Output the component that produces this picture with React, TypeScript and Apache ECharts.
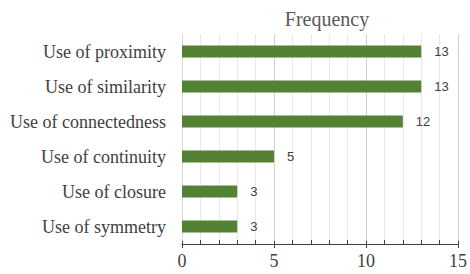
import React, { useEffect, useRef } from "react";
import * as echarts from "echarts";

const categories = [
  "Use of proximity",
  "Use of similarity",
  "Use of connectedness",
  "Use of continuity",
  "Use of closure",
  "Use of symmetry",
];
const frequency = [13, 13, 12, 5, 3, 3];
const axisMin = 0;
const axisMax = 15;
const axisInterval = 5;
const titleText = "Frequency";

export default function App() {
  const ref = useRef<HTMLDivElement>(null);
  useEffect(() => {
    if (!ref.current) return;
    const chart = echarts.init(ref.current, undefined, { renderer: "svg" });
    const serif = "'Liberation Serif', 'Times New Roman', serif";
    chart.setOption({
      animation: false,
      title: {
        text: titleText,
        left: 322,
        top: 4,
        textAlign: "center",
        textStyle: { fontFamily: serif, fontSize: 20, fontWeight: "normal", color: "#595959" },
      },
      grid: { left: 182, right: 9, top: 34, bottom: 30, containLabel: false },
      xAxis: [
        {
          type: "value",
          min: axisMin,
          max: axisMax,
          interval: axisInterval,
          position: "bottom",
          axisLine: { show: true, lineStyle: { color: "#404040", width: 1 } },
          axisTick: { show: true, length: 4, lineStyle: { color: "#404040" } },
          minorTick: { show: false },
          axisLabel: { fontFamily: serif, fontSize: 18, color: "#404040", margin: 8 },
          splitLine: { show: true, lineStyle: { color: "#d0d0d0", width: 1 } },
          minorSplitLine: { show: true, lineStyle: { color: "#e8e8e8", width: 1 } },
        },
        {
          type: "value",
          min: axisMin,
          max: axisMax,
          interval: axisInterval,
          position: "bottom",
          axisLine: { show: false },
          axisTick: { show: true, inside: true, length: 3, lineStyle: { color: "#404040" } },
          minorTick: { show: true, splitNumber: 5, length: 4, lineStyle: { color: "#404040" } },
          axisLabel: { show: false },
          splitLine: { show: false },
        },
      ],
      yAxis: {
        type: "category",
        data: categories,
        inverse: true,
        axisLine: { show: true, lineStyle: { color: "#d9d9d9" } },
        axisTick: { show: false },
        axisLabel: { fontFamily: serif, fontSize: 18, color: "#404040", margin: 16 },
      },
      series: [
        {
          type: "bar",
          data: frequency,
          xAxisIndex: 0,
          barWidth: 12,
          itemStyle: { color: "#548235" },
          label: {
            show: true,
            position: "right",
            distance: 13,
            fontFamily: "'Liberation Sans', Arial, sans-serif",
            fontSize: 13,
            color: "#404040",
          },
        },
      ],
    });
    return () => chart.dispose();
  }, []);
  return <div ref={ref} style={{ width: 470, height: 274, position: "absolute", left: 0, top: 0 }} />;
}
